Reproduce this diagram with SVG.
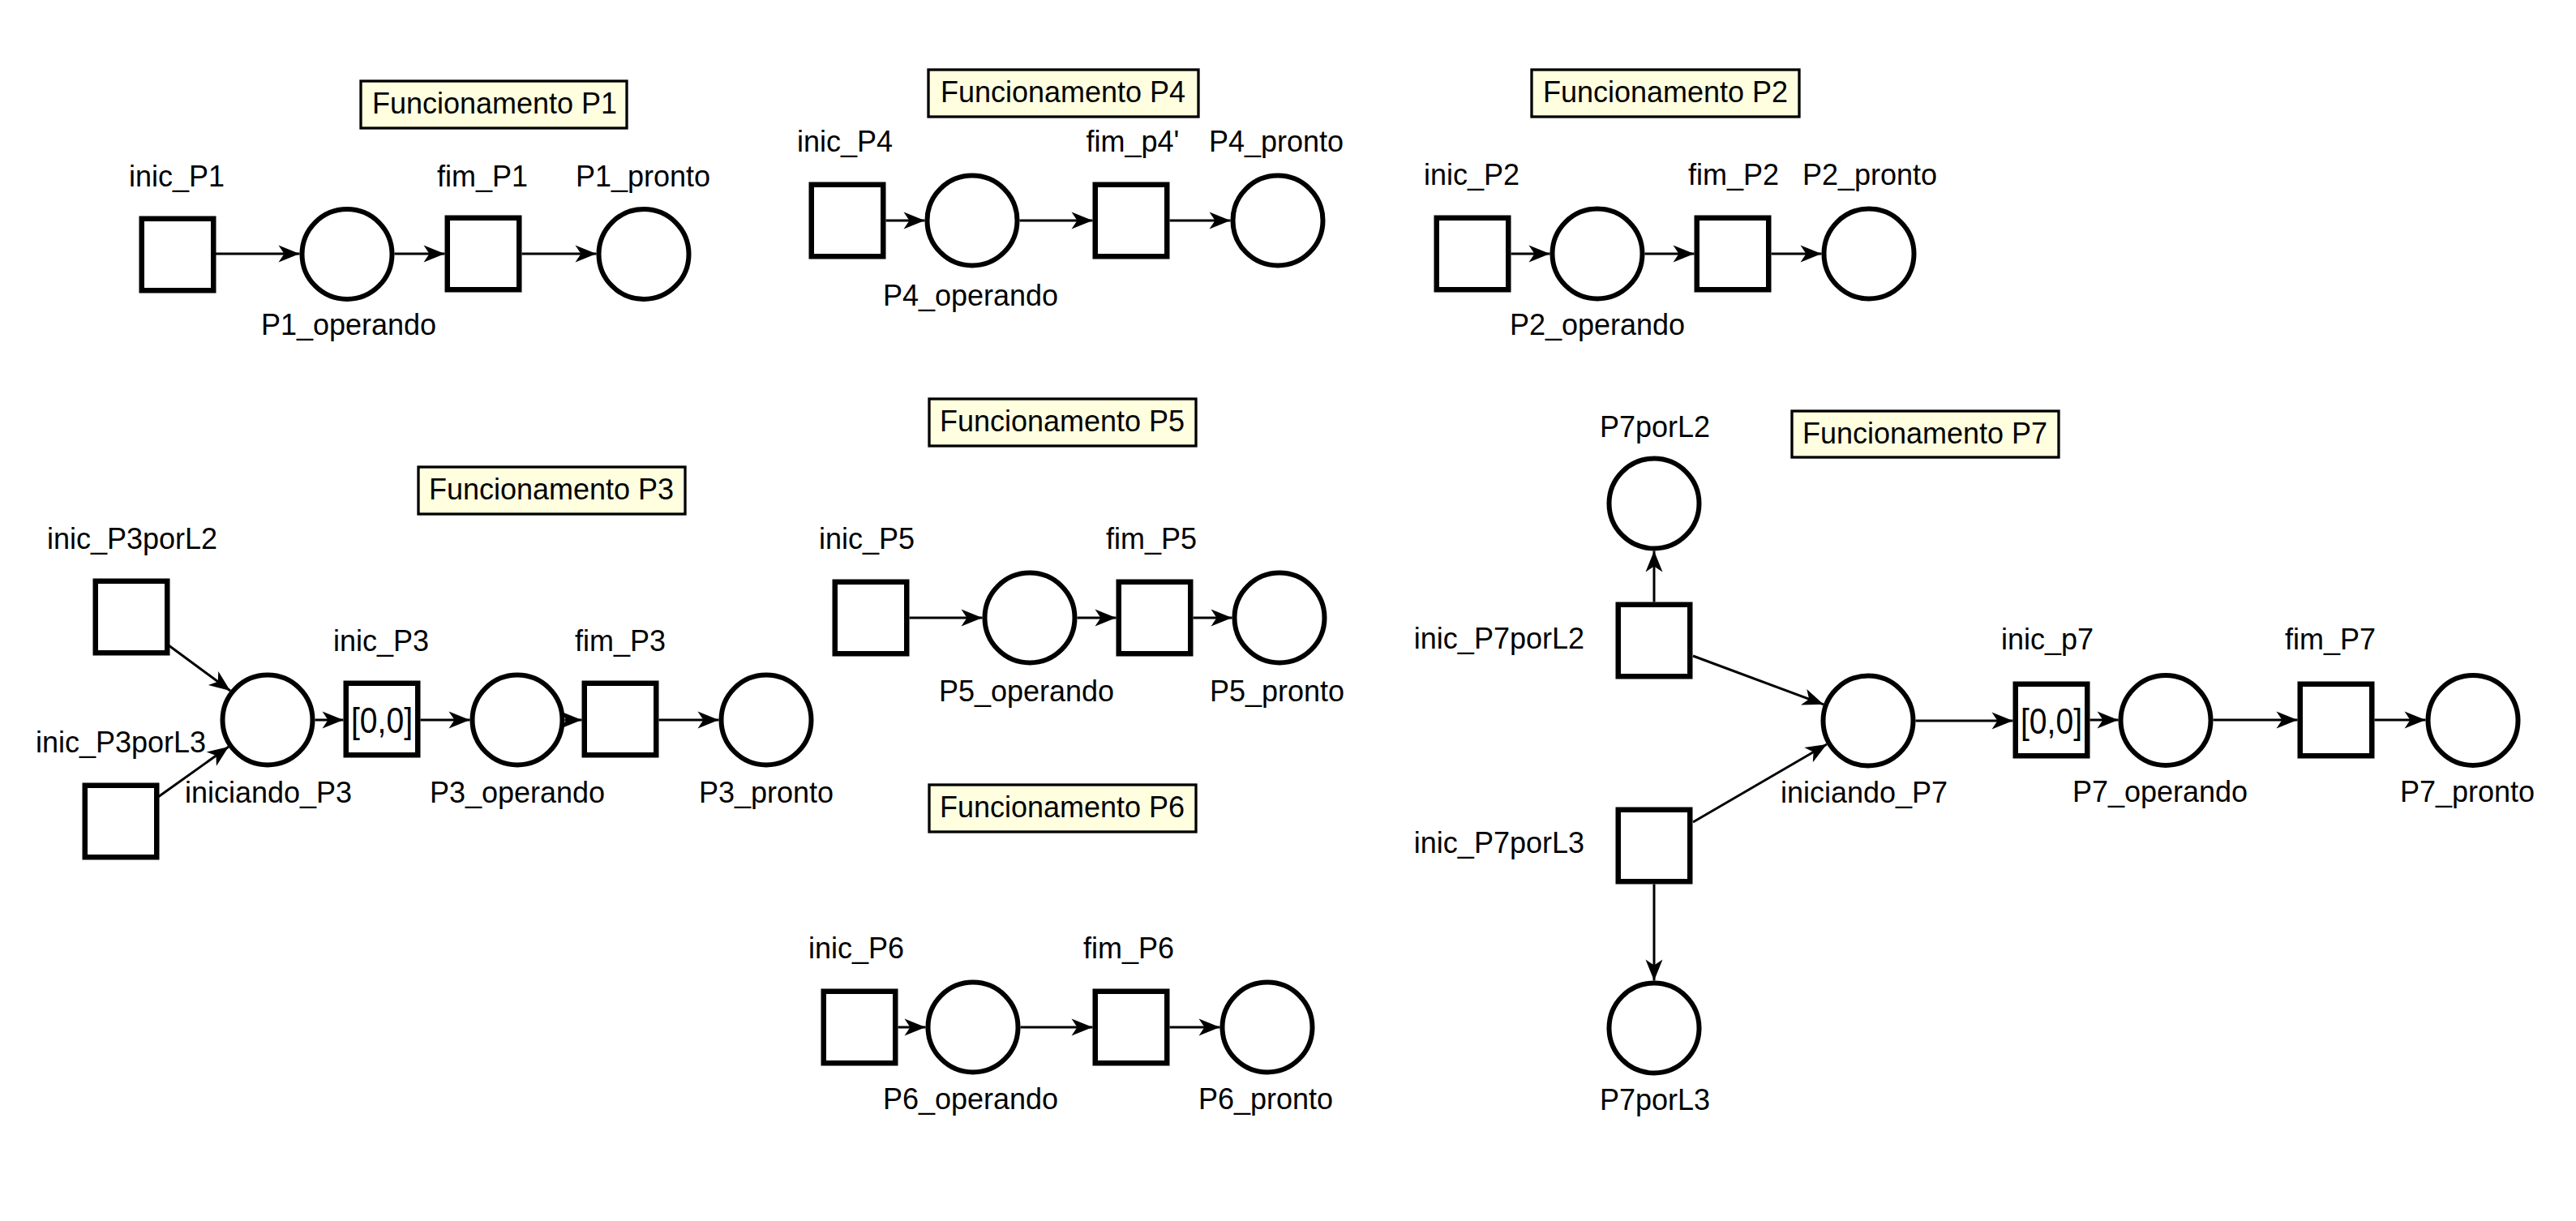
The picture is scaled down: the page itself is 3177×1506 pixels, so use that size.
<svg xmlns="http://www.w3.org/2000/svg" width="3177" height="1506" viewBox="0 0 3177 1506">
<defs>
<style>
.bg{fill:#ffffff}
.t{fill:#ffffff;stroke:#000;stroke-width:6.5}
.p{fill:#ffffff;stroke:#000;stroke-width:6}
.title{fill:#ffffe0;stroke:#000;stroke-width:3.3}
.lbl{font-family:"Liberation Sans",Arial,sans-serif;font-size:36px;fill:#000;text-anchor:middle}
.end{text-anchor:end}
.tt{font-family:"Liberation Sans",Arial,sans-serif;font-size:44px;fill:#000;text-anchor:middle}
.e{stroke:#000;stroke-width:3;fill:none;marker-end:url(#ah)}
</style>
<marker id="ah" viewBox="-28 -12 30 24" refX="0" refY="0" markerWidth="30" markerHeight="24" orient="auto" markerUnits="userSpaceOnUse">
<path d="M0,0 L-26,-10.5 L-19,0 L-26,10.5 Z" fill="#000"/>
</marker>
</defs>
<rect class="bg" x="0" y="0" width="3177" height="1506"/>

<g id="titles">
<g id="title_P1"><rect class="title" x="445" y="100" width="328" height="58"/><text class="lbl" x="610" y="140">Funcionamento P1</text></g>
<g id="title_P4"><rect class="title" x="1145" y="86" width="333" height="58"/><text class="lbl" x="1311" y="126">Funcionamento P4</text></g>
<g id="title_P2"><rect class="title" x="1889" y="86" width="330" height="58"/><text class="lbl" x="2054" y="126">Funcionamento P2</text></g>
<g id="title_P3"><rect class="title" x="516" y="576" width="329" height="58"/><text class="lbl" x="680" y="616">Funcionamento P3</text></g>
<g id="title_P5"><rect class="title" x="1146" y="492" width="329" height="58"/><text class="lbl" x="1310" y="532">Funcionamento P5</text></g>
<g id="title_P6"><rect class="title" x="1146" y="968" width="329" height="58"/><text class="lbl" x="1310" y="1008">Funcionamento P6</text></g>
<g id="title_P7"><rect class="title" x="2210" y="507" width="329" height="57"/><text class="lbl" x="2374" y="547">Funcionamento P7</text></g>
</g>

<g id="connectors">
<line class="e" x1="266" y1="313" x2="369.5" y2="313"/>
<line class="e" x1="486.5" y1="313" x2="548.5" y2="313"/>
<line class="e" x1="643.5" y1="313" x2="735.5" y2="313"/>
<line class="e" x1="1092.5" y1="272" x2="1140.5" y2="272"/>
<line class="e" x1="1257.5" y1="272" x2="1347.5" y2="272"/>
<line class="e" x1="1442.5" y1="272" x2="1517.5" y2="272"/>
<line class="e" x1="1863.5" y1="313" x2="1911.5" y2="313"/>
<line class="e" x1="2028.5" y1="313" x2="2089.5" y2="313"/>
<line class="e" x1="2184.5" y1="313" x2="2246.5" y2="313"/>
<line class="e" x1="208" y1="796" x2="284" y2="852"/>
<line class="e" x1="195" y1="983" x2="282" y2="921"/>
<line class="e" x1="388.5" y1="888" x2="423.5" y2="888"/>
<line class="e" x1="518.5" y1="888" x2="579.5" y2="888"/>
<line class="e" x1="696.5" y1="888" x2="717.5" y2="888"/>
<line class="e" x1="812.5" y1="888" x2="886.5" y2="888"/>
<line class="e" x1="1121.5" y1="762" x2="1211.5" y2="762"/>
<line class="e" x1="1328.5" y1="762" x2="1376.5" y2="762"/>
<line class="e" x1="1471.5" y1="762" x2="1519.5" y2="762"/>
<line class="e" x1="1107.5" y1="1267" x2="1141.5" y2="1267"/>
<line class="e" x1="1258.5" y1="1267" x2="1347.5" y2="1267"/>
<line class="e" x1="1442.5" y1="1267" x2="1504.5" y2="1267"/>
<line class="e" x1="2040" y1="742.5" x2="2040" y2="679.5"/>
<line class="e" x1="2088" y1="809" x2="2249" y2="868.8"/>
<line class="e" x1="2088" y1="1014" x2="2253" y2="918"/>
<line class="e" x1="2040" y1="1090.5" x2="2040" y2="1209.5"/>
<line class="e" x1="2362.5" y1="889" x2="2482.5" y2="889"/>
<line class="e" x1="2577.5" y1="888" x2="2612.5" y2="888"/>
<line class="e" x1="2729.5" y1="888" x2="2833.5" y2="888"/>
<line class="e" x1="2928.5" y1="888" x2="2991.5" y2="888"/>
</g>

<g id="inic_P1"><rect class="t" x="174.75" y="269.75" width="88.5" height="88.5"/><text class="lbl" x="218" y="230">inic_P1</text></g>
<g id="P1_operando"><circle class="p" cx="428" cy="313.5" r="55.5"/><text class="lbl" x="430" y="413">P1_operando</text></g>
<g id="fim_P1"><rect class="t" x="551.75" y="268.75" width="88.5" height="88.5"/><text class="lbl" x="595" y="230">fim_P1</text></g>
<g id="P1_pronto"><circle class="p" cx="794" cy="313.5" r="55.5"/><text class="lbl" x="793" y="230">P1_pronto</text></g>

<g id="inic_P4"><rect class="t" x="1000.75" y="227.75" width="88.5" height="88.5"/><text class="lbl" x="1042" y="187">inic_P4</text></g>
<g id="P4_operando"><circle class="p" cx="1199" cy="272" r="55.5"/><text class="lbl" x="1197" y="377">P4_operando</text></g>
<g id="fim_p4"><rect class="t" x="1350.75" y="227.75" width="88.5" height="88.5"/><text class="lbl" x="1397" y="187">fim_p4'</text></g>
<g id="P4_pronto"><circle class="p" cx="1576" cy="272" r="55.5"/><text class="lbl" x="1574" y="187">P4_pronto</text></g>

<g id="inic_P2"><rect class="t" x="1771.75" y="268.75" width="88.5" height="88.5"/><text class="lbl" x="1815" y="228">inic_P2</text></g>
<g id="P2_operando"><circle class="p" cx="1970" cy="313" r="55.5"/><text class="lbl" x="1970" y="413">P2_operando</text></g>
<g id="fim_P2"><rect class="t" x="2092.75" y="268.75" width="88.5" height="88.5"/><text class="lbl" x="2138" y="228">fim_P2</text></g>
<g id="P2_pronto"><circle class="p" cx="2305" cy="313" r="55.5"/><text class="lbl" x="2306" y="228">P2_pronto</text></g>

<g id="inic_P3porL2"><rect class="t" x="117.75" y="716.75" width="88.5" height="88.5"/><text class="lbl" x="163" y="677">inic_P3porL2</text></g>
<g id="inic_P3porL3"><rect class="t" x="104.75" y="968.75" width="88.5" height="88.5"/><text class="lbl" x="149" y="928">inic_P3porL3</text></g>
<g id="iniciando_P3"><circle class="p" cx="330" cy="888" r="55.5"/><text class="lbl" x="331" y="990">iniciando_P3</text></g>
<g id="inic_P3"><rect class="t" x="426.75" y="842.75" width="88.5" height="88.5"/><text class="tt" x="471" y="904" textLength="76" lengthAdjust="spacingAndGlyphs">[0,0]</text><text class="lbl" x="470" y="803">inic_P3</text></g>
<g id="P3_operando"><circle class="p" cx="638" cy="888" r="55.5"/><text class="lbl" x="638" y="990">P3_operando</text></g>
<g id="fim_P3"><rect class="t" x="720.75" y="842.75" width="88.5" height="88.5"/><text class="lbl" x="765" y="803">fim_P3</text></g>
<g id="P3_pronto"><circle class="p" cx="945" cy="888" r="55.5"/><text class="lbl" x="945" y="990">P3_pronto</text></g>

<g id="inic_P5"><rect class="t" x="1029.75" y="717.75" width="88.5" height="88.5"/><text class="lbl" x="1069" y="677">inic_P5</text></g>
<g id="P5_operando"><circle class="p" cx="1270" cy="762" r="55.5"/><text class="lbl" x="1266" y="865">P5_operando</text></g>
<g id="fim_P5"><rect class="t" x="1379.75" y="717.75" width="88.5" height="88.5"/><text class="lbl" x="1420" y="677">fim_P5</text></g>
<g id="P5_pronto"><circle class="p" cx="1578" cy="762" r="55.5"/><text class="lbl" x="1575" y="865">P5_pronto</text></g>

<g id="inic_P6"><rect class="t" x="1015.75" y="1222.75" width="88.5" height="88.5"/><text class="lbl" x="1056" y="1182">inic_P6</text></g>
<g id="P6_operando"><circle class="p" cx="1200" cy="1267" r="55.5"/><text class="lbl" x="1197" y="1368">P6_operando</text></g>
<g id="fim_P6"><rect class="t" x="1350.75" y="1222.75" width="88.5" height="88.5"/><text class="lbl" x="1392" y="1182">fim_P6</text></g>
<g id="P6_pronto"><circle class="p" cx="1563" cy="1267" r="55.5"/><text class="lbl" x="1561" y="1368">P6_pronto</text></g>

<g id="P7porL2"><circle class="p" cx="2040" cy="621" r="55.5"/><text class="lbl" x="2041" y="539">P7porL2</text></g>
<g id="inic_P7porL2"><rect class="t" x="1995.75" y="745.75" width="88.5" height="88.5"/><text class="lbl end" x="1954" y="800">inic_P7porL2</text></g>
<g id="inic_P7porL3"><rect class="t" x="1995.75" y="998.75" width="88.5" height="88.5"/><text class="lbl end" x="1954" y="1052">inic_P7porL3</text></g>
<g id="P7porL3"><circle class="p" cx="2040" cy="1268" r="55.5"/><text class="lbl" x="2041" y="1369">P7porL3</text></g>
<g id="iniciando_P7"><circle class="p" cx="2304" cy="889" r="55.5"/><text class="lbl" x="2299" y="990">iniciando_P7</text></g>
<g id="inic_p7"><rect class="t" x="2485.75" y="843.75" width="88.5" height="88.5"/><text class="tt" x="2530" y="905" textLength="76" lengthAdjust="spacingAndGlyphs">[0,0]</text><text class="lbl" x="2525" y="801">inic_p7</text></g>
<g id="P7_operando"><circle class="p" cx="2671" cy="888.5" r="55.5"/><text class="lbl" x="2664" y="989">P7_operando</text></g>
<g id="fim_P7"><rect class="t" x="2836.75" y="843.75" width="88.5" height="88.5"/><text class="lbl" x="2874" y="801">fim_P7</text></g>
<g id="P7_pronto"><circle class="p" cx="3050" cy="888.5" r="55.5"/><text class="lbl" x="3043" y="989">P7_pronto</text></g>
</svg>
